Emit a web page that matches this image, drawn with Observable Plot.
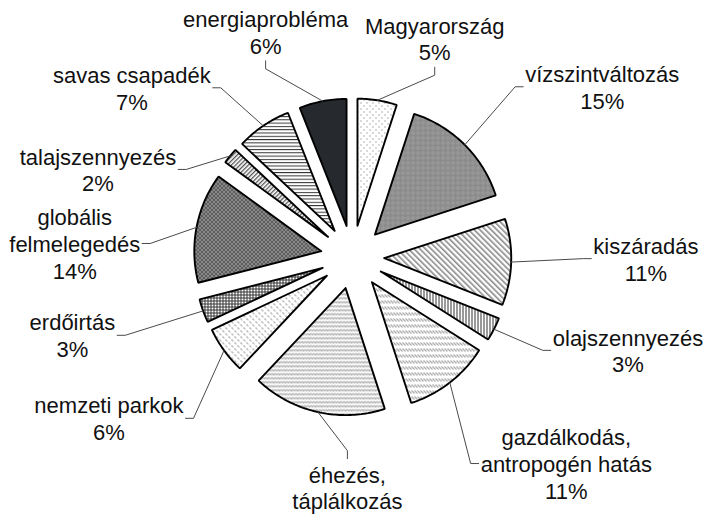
<!DOCTYPE html>
<html><head><meta charset="utf-8">
<script src="https://cdn.jsdelivr.net/npm/d3@7"></script>
<script src="https://cdn.jsdelivr.net/npm/@observablehq/plot@0.6"></script>
<style>body{margin:0;background:#fff;} svg{font-family:"Liberation Sans",Arial,sans-serif;}</style>
</head><body><div id="chart"></div>
<script>
// ---- data ----
const categories = ["Magyarország","vízszintváltozás","kiszáradás","olajszennyezés","gazdálkodás,\nantropogén hatás","éhezés,\ntáplálkozás","nemzeti parkok","erdőirtás","globális\nfelmelegedés","talajszennyezés","savas csapadék","energiaprobléma"];
const percents = [5,15,11,3,11,17,6,3,14,2,7,6];
// label placement (polar: angle clockwise from top in degrees, distance in pie radii)
const labelAngles = [20.6,55.7,90.3,108.7,134.0,181.2,236.5,254.4,272.8,289.0,307.5,338.9];
const labelRadii  = [1.84,2.38,2.31,2.29,2.34,1.92,2.30,2.29,2.19,2.12,2.19,1.90];
const sliceFills = ["url(#p0)","url(#p1)","url(#p2)","url(#p3)","url(#p4)","url(#p5)","url(#p6)","url(#p7)","url(#p8)","url(#p9)","url(#p10)","#262a2e"];

// ---- layout ----
const W = 705, H = 519, R = 127, CX = 352, CY = 256.6, EXPLODE = 0.25, FS = 22, LH = 1.22;
const rad = Math.PI / 180;
const total = d3.sum(percents);
let acc = 0;
const slices = categories.map((c, i) => {
  const a0 = acc / total * 360; acc += percents[i]; const a1 = acc / total * 360;
  return {c, i, a0, a1, mid: (a0 + a1) / 2};
});
const pol = (deg, r) => [r * Math.sin(deg * rad), r * Math.cos(deg * rad)];

const slicePts = slices.map(s => {
  const ap = pol(s.mid, EXPLODE);
  const pts = [ap];
  const n = Math.max(2, Math.ceil((s.a1 - s.a0) / 1));
  for (let k = 0; k <= n; k++) {
    const a = s.a0 + (s.a1 - s.a0) * k / n;
    const p = pol(a, 1);
    pts.push([ap[0] + p[0], ap[1] + p[1]]);
  }
  pts.push(ap);
  return pts;
});

// text measurement
const ctx = document.createElement("canvas").getContext("2d");
ctx.font = `${FS}px "Liberation Sans", Arial, sans-serif`;

const labels = slices.map((s, i) => {
  const [lx, ly] = pol(labelAngles[i], labelRadii[i]);
  const text = `${s.c}\n${percents[i]}%`;
  const lines = text.split("\n");
  const hw = d3.max(lines, l => ctx.measureText(l).width) / 2 / R;
  const hh = lines.length * FS * LH / 2 / R;
  return {text, lx, ly, hw, hh, nLines: lines.length};
});

const gap = 2 / R, elbow = 8 / R;
const leaders = [];
slices.forEach((s, i) => {
  const L = labels[i];
  const ap = pol(s.mid, EXPLODE);
  const e = pol(s.mid, 1);
  const arc = [ap[0] + e[0], ap[1] + e[1]];
  let a, b;
  if (arc[0] >= L.lx - L.hw && arc[0] <= L.lx + L.hw) {
    const sg = arc[1] > L.ly ? 1 : -1;
    a = [L.lx, L.ly + sg * (L.hh + gap)];
    b = [L.lx, L.ly + sg * (L.hh + gap + elbow)];
  } else {
    const sg = arc[0] > L.lx ? 1 : -1;
    a = [L.lx + sg * (L.hw + gap), L.ly];
    b = [L.lx + sg * (L.hw + gap + elbow), L.ly];
  }
  [a, b, arc].forEach(p => leaders.push({k: i, x: p[0], y: p[1]}));
});

const svg = Plot.plot({
  width: W, height: H,
  margin: 0,
  x: {domain: [-CX / R, (W - CX) / R], axis: null},
  y: {domain: [(CY - H) / R, CY / R], axis: null},
  style: {fontFamily: '"Liberation Sans", Arial, sans-serif', background: "#fff"},
  marks: [
    ...slicePts.map((pts, i) => Plot.line(pts, {x: d => d[0], y: d => d[1], fill: sliceFills[i], stroke: "#000", strokeWidth: 1.9, strokeLinejoin: "miter"})),
    Plot.line(leaders, {x: "x", y: "y", z: "k", stroke: "#4a4a4a", strokeWidth: 1}),
    Plot.text(labels, {x: "lx", y: "ly", text: "text", fontSize: FS, lineHeight: LH, fill: "#111"})
  ]
});

const defs = `
<pattern id="p0" width="6" height="6" patternUnits="userSpaceOnUse"><rect width="6" height="6" fill="#fff"/><rect x="0" y="0" width="1" height="1" fill="#666"/><rect x="3" y="3" width="1" height="1" fill="#666"/></pattern>
<pattern id="p1" width="5" height="5" patternUnits="userSpaceOnUse"><rect width="5" height="5" fill="#8c8c8c"/><rect x="2" y="1" width="1" height="3" fill="#b8b8b8"/><rect x="1" y="2" width="3" height="1" fill="#b8b8b8"/><rect x="2" y="2" width="1" height="1" fill="#5a5a5a"/></pattern>
<pattern id="p2" width="4" height="4" patternUnits="userSpaceOnUse" patternTransform="rotate(-45)"><rect width="4" height="4" fill="#fff"/><rect width="1.6" height="4" fill="#8a8a8a"/></pattern>
<pattern id="p3" width="3" height="3" patternUnits="userSpaceOnUse"><rect width="3" height="3" fill="#fff"/><rect width="1" height="3" fill="#333"/></pattern>
<pattern id="p4" width="3" height="6" patternUnits="userSpaceOnUse"><rect width="3" height="6" fill="#fff"/><rect x="0" y="0" width="1" height="1" fill="#666"/><rect x="1" y="1" width="1" height="1" fill="#666"/><rect x="2" y="2" width="1" height="1" fill="#666"/></pattern>
<pattern id="p5" width="6" height="4" patternUnits="userSpaceOnUse"><rect width="6" height="4" fill="#fff"/><path d="M0,2.8 L1.5,0.8 L3,2.8 L4.5,0.8 L6,2.8" stroke="#777" stroke-width="0.9" fill="none"/></pattern>
<pattern id="p6" width="6" height="6" patternUnits="userSpaceOnUse"><rect width="6" height="6" fill="#fff"/><rect x="0" y="0" width="1" height="1" fill="#666"/><rect x="1" y="1" width="1" height="1" fill="#999"/><rect x="3" y="3" width="1" height="1" fill="#666"/><rect x="4" y="4" width="1" height="1" fill="#999"/></pattern>
<pattern id="p7" width="3" height="3" patternUnits="userSpaceOnUse"><rect width="3" height="3" fill="#fff"/><rect width="3" height="1" fill="#333"/><rect width="1" height="3" fill="#333"/></pattern>
<pattern id="p8" width="4" height="4" patternUnits="userSpaceOnUse"><rect width="4" height="4" fill="#6a6a6a"/><rect x="1" y="1" width="1" height="1" fill="#e0e0e0"/><rect x="3" y="3" width="1" height="1" fill="#e0e0e0"/><rect x="1" y="3" width="1" height="1" fill="#3a3a3a"/><rect x="3" y="1" width="1" height="1" fill="#3a3a3a"/></pattern>
<pattern id="p9" width="3" height="3" patternUnits="userSpaceOnUse" patternTransform="rotate(45)"><rect width="3" height="3" fill="#fff"/><rect width="1.3" height="3" fill="#555"/></pattern>
<pattern id="p10" width="3" height="3.3" patternUnits="userSpaceOnUse"><rect width="3" height="3.3" fill="#fff"/><rect width="3" height="1" fill="#333"/></pattern>`;
d3.select(svg).insert("defs", ":first-child").html(defs);
document.getElementById("chart").appendChild(svg);
</script>
</body></html>
